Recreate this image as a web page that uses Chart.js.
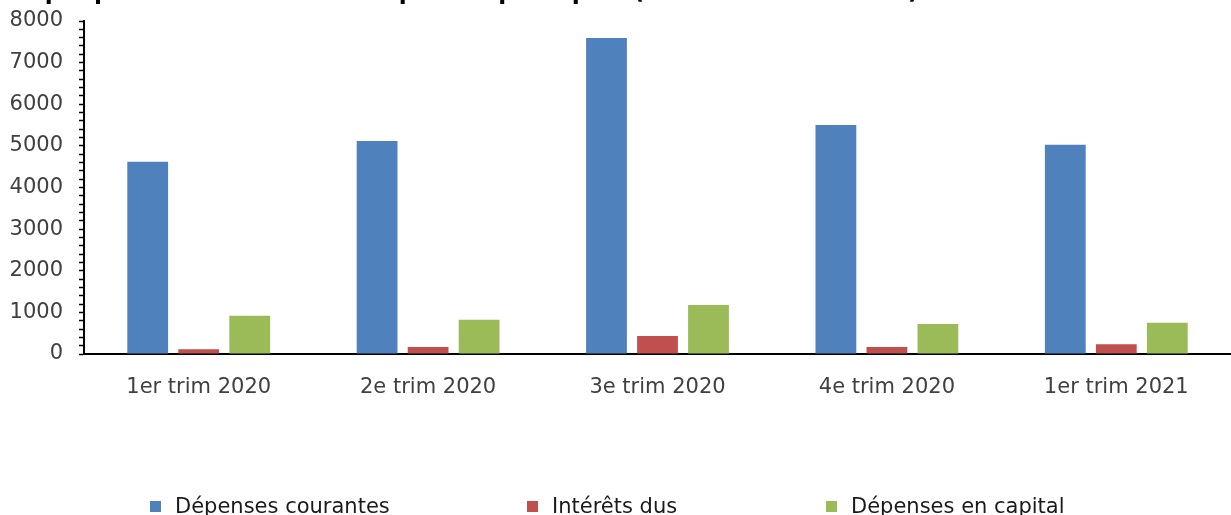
<!DOCTYPE html>
<html lang="fr">
<head>
<meta charset="utf-8">
<title>Dépenses publiques</title>
<script src="https://cdn.jsdelivr.net/npm/chart.js@4.4.1/dist/chart.umd.min.js"></script>
<style>
  html, body { margin: 0; padding: 0; background: #fff; }
  #wrap { position: relative; width: 1231px; height: 515px; overflow: hidden; }
  #legend {
    position: absolute; left: 150px; top: 494px;
    display: flex; align-items: center;
    font: 21px "DejaVu Sans", Verdana, sans-serif; color: #1a1a1a;
  }
  #legend .item { display: flex; align-items: center; }
  #legend .box { width: 11px; height: 11px; margin-right: 14px; }
</style>
</head>
<body>
<div id="wrap">
  <canvas id="chart" width="1231" height="515"></canvas>
  <div id="legend"></div>
</div>
<script>
const chartTitle = 'Graphique 3 : Évolution des dépenses publiques (en milliards de FCFA)';
const categories = ['1er trim 2020', '2e trim 2020', '3e trim 2020', '4e trim 2020', '1er trim 2021'];
const seriesNames = ['Dépenses courantes', 'Intérêts dus', 'Dépenses en capital'];
const depensesCourantes = [4620, 5120, 7590, 5500, 5030];
const interetsDus = [115, 170, 430, 170, 235];
const depensesCapital = [920, 820, 1180, 720, 750];
const yMax = 8000;
const yMinorStep = 200;
const yMajorStep = 1000;

const colors = ['#4F81BD', '#C0504D', '#9BBB59'];
const legendWidths = [377, 299, null];
const fontFamily = '"DejaVu Sans", Verdana, sans-serif';

Chart.defaults.font.family = fontFamily;

// title sits above the top edge, only the descenders show
const clippedTitle = {
  id: 'clippedTitle',
  afterDraw(chart) {
    const ctx = chart.ctx;
    ctx.save();
    ctx.font = 'bold 23px ' + fontFamily;
    ctx.fillStyle = '#000';
    ctx.textBaseline = 'alphabetic';
    ctx.fillText(chartTitle, -1, -1);
    ctx.restore();
  }
};

const datasets = [depensesCourantes, interetsDus, depensesCapital].map((data, i) => ({
  label: seriesNames[i],
  data: data,
  backgroundColor: colors[i],
  borderWidth: 0,
  categoryPercentage: 0.667,
  barPercentage: 0.8
}));

new Chart(document.getElementById('chart'), {
  type: 'bar',
  data: { labels: categories, datasets: datasets },
  plugins: [clippedTitle],
  options: {
    responsive: false,
    animation: false,
    devicePixelRatio: 1,
    layout: { padding: { top: 21, right: 0, bottom: 0, left: 0 } },
    plugins: {
      legend: { display: false },
      tooltip: { enabled: false },
      title: { display: false }
    },
    scales: {
      x: {
        grid: { display: false },
        border: { display: true, color: '#000', width: 2 },
        ticks: {
          color: '#404040',
          font: { size: 21 },
          padding: 13,
          maxRotation: 0
        },
        afterFit: s => { s.height = 161; }
      },
      y: {
        min: 0,
        max: yMax,
        grid: {
          drawOnChartArea: false,
          drawTicks: true,
          tickLength: 5,
          tickColor: '#000',
          tickWidth: 1.5
        },
        border: { display: true, color: '#000', width: 2 },
        ticks: {
          stepSize: yMinorStep,
          autoSkip: false,
          color: '#404040',
          font: { size: 21 },
          padding: 16,
          callback: v => (v % yMajorStep === 0 ? v : '')
        },
        afterFit: s => {
          s.width = 84;
          s.paddingTop = 0;
          s.paddingBottom = 0;
        }
      }
    }
  }
});

// legend below the plot
const legendEl = document.getElementById('legend');
seriesNames.forEach((name, i) => {
  const item = document.createElement('div');
  item.className = 'item';
  if (legendWidths[i]) item.style.width = legendWidths[i] + 'px';
  const box = document.createElement('span');
  box.className = 'box';
  box.style.background = colors[i];
  const text = document.createElement('span');
  text.textContent = name;
  item.appendChild(box);
  item.appendChild(text);
  legendEl.appendChild(item);
});
</script>
</body>
</html>
